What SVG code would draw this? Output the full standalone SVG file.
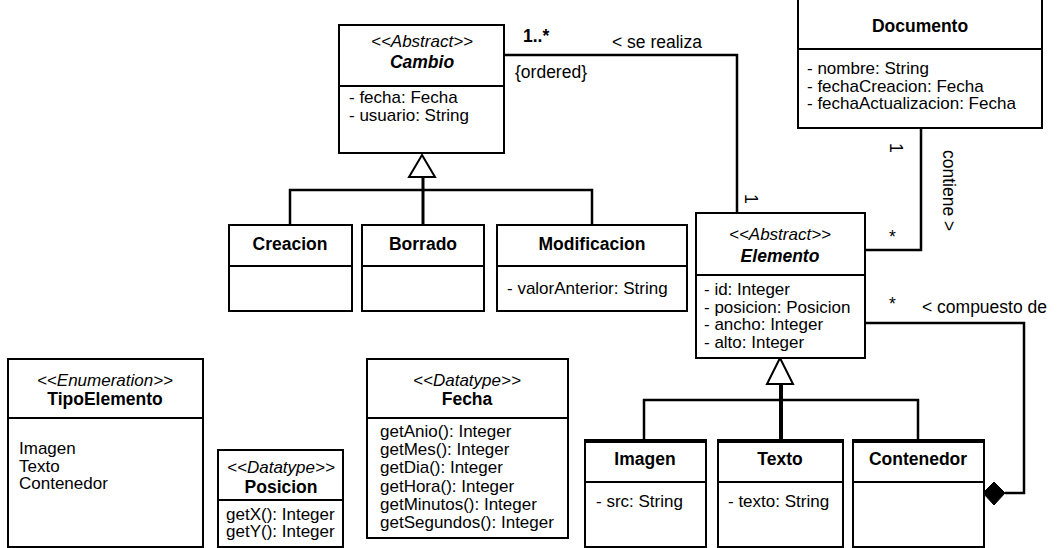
<svg xmlns="http://www.w3.org/2000/svg" width="1057" height="548" viewBox="0 0 1057 548">
<style>
text{font-family:"Liberation Sans",Arial,sans-serif;fill:#000}
.a{font-size:17px}
.b{font-size:17.5px;font-weight:bold}
.s{font-size:17px;font-style:italic}
.m{text-anchor:middle}
.box{fill:#fff;stroke:#000;stroke-width:2}
.ln{fill:none;stroke:#000;stroke-width:2}
.c{fill:none;stroke:#000;stroke-width:2.5}
.lbl{font-size:17.5px}
</style>
<rect width="1057" height="548" fill="#fff"/>
<g id="connectors">
<polyline class="c" points="504,55 737,55 737,213"/>
<polyline class="c" points="921,128 921,250 865,250"/>
<polyline class="c" points="865,323 1024,323 1024,493 1005,493"/>
<polygon points="983,493 994,482 1005,493 994,505" fill="#000" stroke="#000" stroke-width="1"/>
<polyline class="c" points="290,225 290,190 592,190 592,225"/>
<line x1="423" y1="176" x2="423" y2="225" stroke="#000" stroke-width="3"/>
<polygon points="422,155 409,177 435,177" fill="#fff" stroke="#000" stroke-width="2"/>
<polyline class="c" points="644,440 644,400 918,400 918,440"/>
<line x1="781" y1="383" x2="781" y2="440" stroke="#000" stroke-width="4"/>
<polygon points="780,358 767,384 793,384" fill="#fff" stroke="#000" stroke-width="2"/>
<text class="lbl" x="523" y="42" style="font-weight:bold">1..*</text>
<text class="lbl" x="612" y="48">&lt; se realiza</text>
<text class="lbl" x="515" y="78">{ordered}</text>
<text class="lbl" x="0" y="0" transform="translate(745,194) rotate(90)">1</text>
<text class="lbl" x="0" y="0" transform="translate(890,143) rotate(90)">1</text>
<text class="lbl" x="889" y="243">*</text>
<text class="lbl" x="0" y="0" transform="translate(943,150) rotate(90)">contiene &gt;</text>
<text class="lbl" x="889" y="310">*</text>
<text class="lbl" x="922" y="313">&lt; compuesto de</text>
</g>
<g id="Cambio">
<rect class="box" x="339" y="25" width="165" height="128"/>
<line class="ln" x1="339" y1="86" x2="504" y2="86"/>
<text class="s m" x="422" y="47">&lt;&lt;Abstract&gt;&gt;</text>
<text class="b m" x="422" y="68" font-style="italic">Cambio</text>
<text class="a" x="349" y="103">- fecha: Fecha</text>
<text class="a" x="349" y="121">- usuario: String</text>
</g>
<g id="Documento">
<rect class="box" x="798" y="-10" width="244" height="138"/>
<line class="ln" x1="798" y1="49" x2="1042" y2="49"/>
<text class="b m" x="920" y="32">Documento</text>
<text class="a" x="807" y="74">- nombre: String</text>
<text class="a" x="807" y="92">- fechaCreacion: Fecha</text>
<text class="a" x="807" y="109">- fechaActualizacion: Fecha</text>
</g>
<g id="Creacion">
<rect class="box" x="229" y="225" width="123" height="86"/>
<line class="ln" x1="229" y1="266" x2="352" y2="266"/>
<text class="b m" x="290" y="250">Creacion</text>
</g>
<g id="Borrado">
<rect class="box" x="362" y="225" width="122" height="86"/>
<line class="ln" x1="362" y1="266" x2="484" y2="266"/>
<text class="b m" x="423" y="250">Borrado</text>
</g>
<g id="Modificacion">
<rect class="box" x="497" y="225" width="190" height="86"/>
<line class="ln" x1="497" y1="266" x2="687" y2="266"/>
<text class="b m" x="592" y="250">Modificacion</text>
<text class="a" x="507" y="294">- valorAnterior: String</text>
</g>
<g id="Elemento">
<rect class="box" x="696" y="213" width="169" height="145"/>
<line class="ln" x1="696" y1="275" x2="865" y2="275"/>
<text class="s m" x="780" y="240">&lt;&lt;Abstract&gt;&gt;</text>
<text class="b m" x="780" y="262" font-style="italic">Elemento</text>
<text class="a" x="704" y="295">- id: Integer</text>
<text class="a" x="704" y="312.5">- posicion: Posicion</text>
<text class="a" x="704" y="330">- ancho: Integer</text>
<text class="a" x="704" y="347.5">- alto: Integer</text>
</g>
<g id="TipoElemento">
<rect class="box" x="8" y="359" width="195" height="188"/>
<line class="ln" x1="8" y1="418" x2="203" y2="418"/>
<text class="s m" x="105" y="386">&lt;&lt;Enumeration&gt;&gt;</text>
<text class="b m" x="105" y="405">TipoElemento</text>
<text class="a" x="19" y="454">Imagen</text>
<text class="a" x="19" y="472">Texto</text>
<text class="a" x="19" y="489">Contenedor</text>
</g>
<g id="Posicion">
<rect class="box" x="218" y="450" width="125" height="97"/>
<line class="ln" x1="218" y1="500" x2="343" y2="500"/>
<text class="s m" x="281" y="473">&lt;&lt;Datatype&gt;&gt;</text>
<text class="b m" x="281" y="493">Posicion</text>
<text class="a" x="226" y="520">getX(): Integer</text>
<text class="a" x="226" y="537">getY(): Integer</text>
</g>
<g id="Fecha">
<rect class="box" x="367" y="359" width="201" height="179"/>
<line class="ln" x1="367" y1="418" x2="568" y2="418"/>
<text class="s m" x="467" y="386">&lt;&lt;Datatype&gt;&gt;</text>
<text class="b m" x="467" y="405">Fecha</text>
<text class="a" x="380" y="437">getAnio(): Integer</text>
<text class="a" x="380" y="455">getMes(): Integer</text>
<text class="a" x="380" y="473">getDia(): Integer</text>
<text class="a" x="380" y="492">getHora(): Integer</text>
<text class="a" x="380" y="510">getMinutos(): Integer</text>
<text class="a" x="380" y="528">getSegundos(): Integer</text>
</g>
<g id="Imagen">
<rect class="box" x="585" y="440" width="121" height="107"/>
<line x1="584" y1="441" x2="707" y2="441" stroke="#000" stroke-width="4"/>
<line class="ln" x1="585" y1="482" x2="706" y2="482"/>
<text class="b m" x="645" y="465">Imagen</text>
<text class="a" x="596" y="507">- src: String</text>
</g>
<g id="Texto">
<rect class="box" x="718" y="440" width="125" height="107"/>
<line x1="717" y1="441" x2="844" y2="441" stroke="#000" stroke-width="4"/>
<line class="ln" x1="718" y1="482" x2="843" y2="482"/>
<text class="b m" x="780" y="465">Texto</text>
<text class="a" x="728" y="507">- texto: String</text>
</g>
<g id="Contenedor">
<rect class="box" x="853" y="440" width="131" height="107"/>
<line x1="852" y1="441" x2="985" y2="441" stroke="#000" stroke-width="4"/>
<line class="ln" x1="853" y1="482" x2="984" y2="482"/>
<text class="b m" x="918" y="465">Contenedor</text>
</g>
</svg>
